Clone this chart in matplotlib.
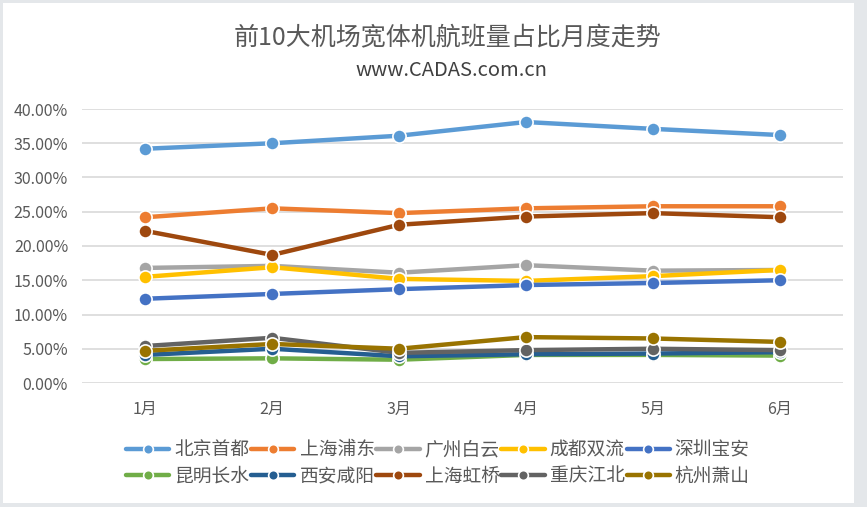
import matplotlib
matplotlib.use("Agg")
import matplotlib.pyplot as plt
from matplotlib.patches import Rectangle

plt.rcParams['font.family'] = ['Noto Sans CJK SC', 'DejaVu Sans']

months = ['1月', '2月', '3月', '4月', '5月', '6月']

airports = ['北京首都', '上海浦东', '广州白云', '成都双流', '深圳宝安',
            '昆明长水', '西安咸阳', '上海虹桥', '重庆江北', '杭州萧山']

beijing   = [34.2, 35.0, 36.1, 38.1, 37.1, 36.2]
pudong    = [24.2, 25.5, 24.8, 25.5, 25.8, 25.8]
baiyun    = [16.8, 17.1, 16.1, 17.2, 16.4, 16.5]
shuangliu = [15.5, 16.9, 15.2, 14.9, 15.6, 16.5]
baoan     = [12.3, 13.0, 13.7, 14.3, 14.6, 15.0]
changshui = [3.5, 3.6, 3.4, 4.1, 4.1, 4.0]
xianyang  = [4.1, 5.0, 3.9, 4.2, 4.3, 4.5]
hongqiao  = [22.2, 18.7, 23.1, 24.3, 24.8, 24.2]
jiangbei  = [5.4, 6.6, 4.4, 4.8, 5.0, 4.8]
xiaoshan  = [4.7, 5.7, 5.0, 6.7, 6.5, 6.0]

series = [beijing, pudong, baiyun, shuangliu, baoan,
          changshui, xianyang, hongqiao, jiangbei, xiaoshan]
colors = ['#5B9BD5', '#ED7D31', '#A5A5A5', '#FFC000', '#4472C4',
          '#70AD47', '#255E91', '#9E480E', '#636363', '#997300']

fig = plt.figure(figsize=(8.67, 5.07), dpi=100, facecolor='#E4E7EA')
# white card inside the light gray border
fig.patches.append(Rectangle((3 / 867, 4 / 507), 851 / 867, 500 / 507,
                             transform=fig.transFigure, facecolor='white',
                             edgecolor='none', zorder=-5))

ax = fig.add_axes([82 / 867, 1 - 383 / 507, 761 / 867, 274 / 507])
ax.set_facecolor('none')

x = list(range(len(months)))
lines = []
for name, vals, c in zip(airports, series, colors):
    ln, = ax.plot(x, [v / 100 for v in vals], color=c, lw=3.2, marker='o',
                  ms=9.5, mfc=c, mec='white', mew=1.2, label=name,
                  solid_capstyle='round')
    lines.append(ln)

ax.set_xlim(-0.5, len(months) - 0.5)
ax.set_ylim(0, 0.40)
ax.set_yticks([i * 0.05 for i in range(9)])
ax.set_yticklabels([f'{i * 5:.2f}%' for i in range(9)])
ax.set_xticks(x)
ax.set_xticklabels(months)
ax.tick_params(length=0, labelsize=11.5, colors='#595959')
ax.tick_params(axis='x', pad=13)
ax.tick_params(axis='y', pad=10)
ax.grid(axis='y', color='#D9D9D9', lw=1.2)
ax.set_axisbelow(True)
for s in ax.spines.values():
    s.set_visible(False)

fig.text(448 / 867, 1 - 38 / 507, '前10大机场宽体机航班量占比月度走势',
         ha='center', va='center', fontsize=18, color='#595959')
fig.text(451 / 867, 1 - 71 / 507, 'www.CADAS.com.cn',
         ha='center', va='center', fontsize=14.5, color='#404040')

# legend fills column by column, so reorder to read row by row
order = [0, 5, 1, 6, 2, 7, 3, 8, 4, 9]
leg = fig.legend([lines[i] for i in order], [airports[i] for i in order],
                 loc='center', bbox_to_anchor=(438 / 867, 1 - 463 / 507),
                 ncol=5, frameon=False, fontsize=13.5, handlelength=2.3,
                 handletextpad=0.27, columnspacing=0.1, labelspacing=0.3,
                 labelcolor='#595959')
for h in leg.legend_handles:
    h.set_markersize(7)

fig.savefig('out.png', dpi=100, facecolor=fig.get_facecolor())
